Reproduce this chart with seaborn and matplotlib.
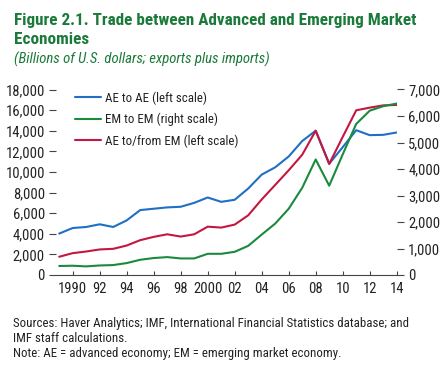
import matplotlib
matplotlib.use("Agg")
import matplotlib.pyplot as plt
import seaborn as sns
import pandas as pd
from matplotlib.lines import Line2D

years = list(range(1989, 2015))
ae_to_ae = [4020, 4560, 4660, 4920, 4660, 5300, 6300, 6430, 6560, 6620, 7000, 7520, 7100, 7300,
            8390, 9740, 10450, 11500, 13000, 14000, 10800, 12400, 14050, 13570, 13600, 13830]
ae_em = [1770, 2120, 2280, 2480, 2540, 2860, 3380, 3700, 3950, 3730, 3950, 4690, 4600, 4890,
         5790, 7330, 8740, 10160, 11670, 14000, 10780, 13400, 15980, 16240, 16460, 16500]
em_to_em = [340, 350, 325, 360, 375, 450, 575, 640, 675, 625, 625, 800, 800, 875,
            1100, 1525, 1940, 2500, 3290, 4360, 3370, 4550, 5700, 6200, 6370, 6470]
xtick_years = list(range(1990, 2015, 2))
xtick_labels = ["1990", "92", "94", "96", "98", "2000", "02", "04", "06", "08", "10", "12", "14"]
left_ticks = list(range(0, 18001, 2000))
right_ticks = list(range(0, 7001, 1000))
labels = ["AE to AE (left scale)", "EM to EM (right scale)", "AE to/from EM (left scale)"]

sns.set_theme(style="white")
plt.rcParams['font.family'] = ['Roboto Condensed', 'Liberation Sans', 'DejaVu Sans']

BLUE = "#1f6fc4"
GREEN = "#1b8a3e"
RED = "#c4173f"
TITLE_GREEN = "#1b7a3a"

df = pd.DataFrame({"year": years, "aeae": ae_to_ae, "aeem": ae_em, "emem": em_to_em})

fig = plt.figure(figsize=(4.45, 3.67), dpi=100)
ax = fig.add_axes([56/445, 1-275/367, (397-56)/445, (275-89.5)/367])
ax2 = ax.twinx()

lw = 1.5
sns.lineplot(data=df, x="year", y="aeae", ax=ax, color=BLUE, lw=lw)
sns.lineplot(data=df, x="year", y="aeem", ax=ax, color=RED, lw=lw)
sns.lineplot(data=df, x="year", y="emem", ax=ax2, color=GREEN, lw=lw)

for ln in ax.get_lines():
    if ln.get_color() == RED:
        ln.set_zorder(3)

x0 = 1990 - (72.7 - 56) / 13.5
x1 = 1990 + (397 - 72.7) / 13.5
ax.set_xlim(x0, x1)
ax.set_ylim(0, 18000)
ax2.set_ylim(0, 7000)
ax.set_xlabel("")
ax.set_ylabel("")
ax2.set_ylabel("")

for a in (ax, ax2):
    for s in ["top", "left", "right", "bottom"]:
        a.spines[s].set_visible(False)
    a.patch.set_visible(False)
ax.spines["bottom"].set_visible(True)
ax.spines["bottom"].set_color("#444444")
ax.spines["bottom"].set_linewidth(0.8)

TICK_FS = 10.5
ax.set_xticks(xtick_years)
ax.set_xticklabels(xtick_labels, fontsize=TICK_FS)
ax.tick_params(axis="x", direction="in", length=3, width=0.8, color="#444444", pad=5, bottom=True,
               labelcolor="#222222")
ax.set_yticks(left_ticks)
ax.set_yticklabels([f"{v:,}" for v in left_ticks], fontsize=TICK_FS)
ax.tick_params(axis="y", direction="out", length=5, width=0.8, color="#444444", pad=3, left=True,
               labelcolor="#222222")
ax2.set_yticks(right_ticks)
ax2.set_yticklabels([f"{v:,}" for v in right_ticks], fontsize=TICK_FS)
ax2.tick_params(axis="y", direction="out", length=5, width=0.8, color="#444444", pad=3, right=True,
                labelcolor="#222222")

handles = [Line2D([], [], color=BLUE, lw=lw), Line2D([], [], color=GREEN, lw=lw),
           Line2D([], [], color=RED, lw=lw)]
leg = ax.legend(handles, labels, loc="upper left", bbox_to_anchor=(0.057, 0.99), frameon=False,
                fontsize=9.3, handlelength=1.95, handletextpad=0.32, labelspacing=0.62,
                borderaxespad=0, borderpad=0, labelcolor="#222222")

fig.text(14/445, 1-20/367, "Figure 2.1. Trade between Advanced and Emerging Market",
         fontsize=12.3, fontweight="bold", color=TITLE_GREEN, va="center", ha="left")
fig.text(14/445, 1-40/367, "Economies",
         fontsize=12.3, fontweight="bold", color=TITLE_GREEN, va="center", ha="left")
fig.text(14/445, 1-59/367, "(Billions of U.S. dollars; exports plus imports)",
         fontsize=10.6, style="italic", color=TITLE_GREEN, va="center", ha="left")

foot = ["Sources: Haver Analytics; IMF, International Financial Statistics database; and",
        "IMF staff calculations.",
        "Note: AE = advanced economy; EM = emerging market economy."]
for i, t in enumerate(foot):
    fig.text(13/445, 1-(323 + i*15.5)/367, t, fontsize=9.25, color="#222222", va="center", ha="left")

fig.savefig("out.png", dpi=100)
